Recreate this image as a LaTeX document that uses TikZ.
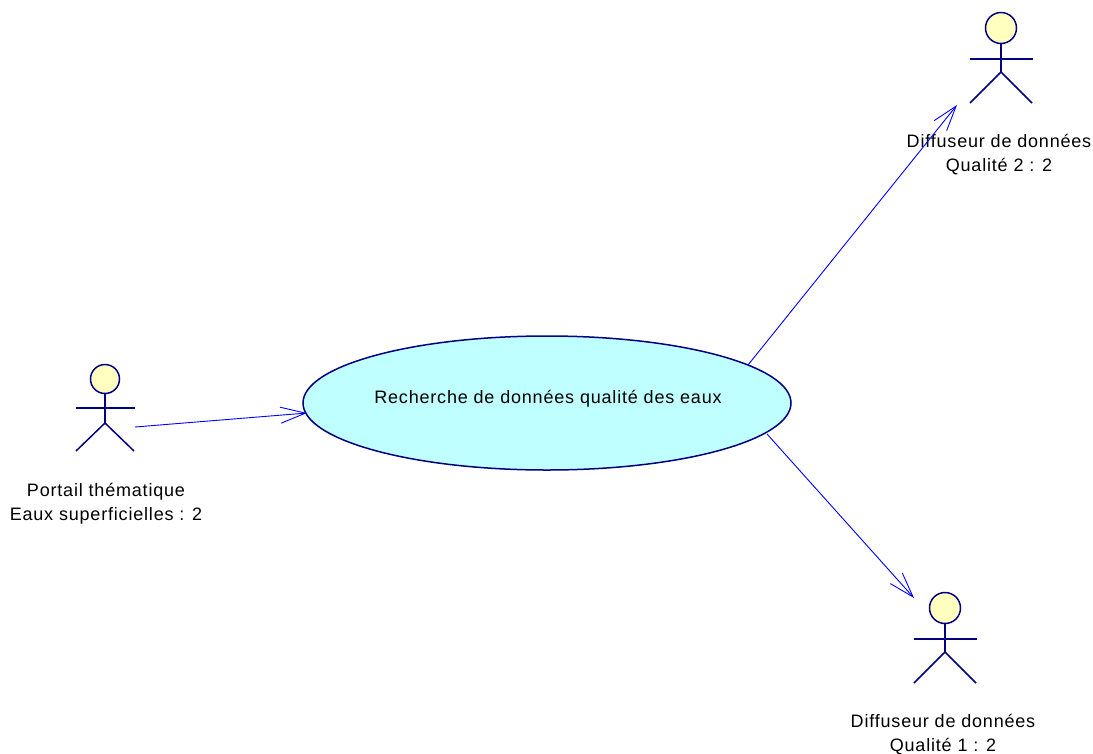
\documentclass[tikz,border=0pt]{standalone}
\usepackage{fontspec}
\setmainfont[LetterSpace=4.5]{Liberation Sans}
\usetikzlibrary{arrows.meta,shapes.geometric}
\definecolor{actorline}{RGB}{0,0,128}
\definecolor{actorfill}{RGB}{255,255,191}
\definecolor{casefill}{RGB}{191,255,255}
\definecolor{linkline}{RGB}{0,0,255}
\tikzset{
  actorpart/.style={draw=actorline,line width=1.5pt},
  actorhead/.style={circle,actorpart,fill=actorfill,inner sep=0pt},
  usecase/.style={ellipse,draw=actorline,line width=1.5pt,fill=casefill,minimum width=488pt,minimum height=134pt,inner sep=0pt},
  actorlabel/.style={align=center,font=\fontsize{18pt}{23.5pt}\selectfont},
  linkarrow/.style={draw=linkline,line width=0.9pt,-{Straight Barb[length=25pt,width=16pt,line width=0.9pt]}}
}
\begin{document}
\begin{tikzpicture}[x=1pt,y=-1pt]
  \useasboundingbox (0,0) rectangle (1093,753);
  % actors
  \foreach \name/\x/\y/\w/\l in {portail/105/379/29/72,diffdeux/1001/28/31/75,diffun/945/608/31/75}{
    \node[actorhead,minimum size=\w pt] (\name head) at (\x,\y) {};
    \coordinate (\name hub) at (\x,\y+44);
    \draw[actorpart] (\name head) -- (\name hub);
    \draw[actorpart] (\x-\w,\y+\w) -- (\x+\w+1,\y+\w);
    \draw[actorpart] (\x-\w,\y+\l) -- (\name hub) -- (\x+\w,\y+\l);
  }
  \node[actorlabel] (portail label) at (106,503.5) {Portail thématique\\Eaux superficielles : 2};
  \node[actorlabel] (diffdeux label) at (999,154.5) {Diffuseur de données\\Qualité 2 : 2};
  \node[actorlabel] (diffun label) at (943,734.5) {Diffuseur de données\\Qualité 1 : 2};
  % use case
  \node[usecase] (recherche) at (547,403) {};
  \node[font=\fontsize{18pt}{20pt}\selectfont] (recherche label) at (548,399) {Recherche de données qualité des eaux};
  % links
  \coordinate (portail end) at (135,427);
  \coordinate (recherche in) at (307,413);
  \coordinate (recherche up) at (748,365);
  \coordinate (diffdeux end) at (957,105);
  \coordinate (recherche down) at (767,434);
  \coordinate (diffun end) at (914,598);
  \draw[linkarrow] (portail end) -- (recherche in);
  \draw[linkarrow] (recherche up) -- (diffdeux end);
  \draw[linkarrow] (recherche down) -- (diffun end);
\end{tikzpicture}
\end{document}
